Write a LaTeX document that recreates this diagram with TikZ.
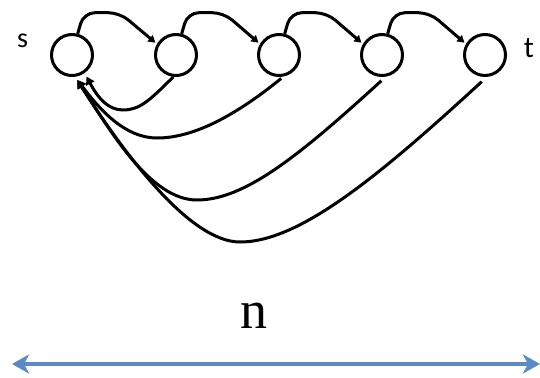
\documentclass[tikz,border=0pt]{standalone}
\usepackage{fontspec}
\newfontfamily\carl{Carlito}
\newfontfamily\lserif{Liberation Serif}
\usetikzlibrary{arrows.meta}
\definecolor{bluearrow}{HTML}{5A8BC6}
\begin{document}
\begin{tikzpicture}[x=1pt,y=-1pt,
  vert/.style={circle,draw=black,line width=3pt,minimum size=41pt,inner sep=0pt,fill=white},
  fwd/.style={line width=3pt,rounded corners=11pt,-{Triangle[length=7pt,width=8pt]},shorten >=2pt},
  back/.style={line width=3pt,-{Triangle[length=8pt,width=9pt]}},
  lbl/.style={anchor=base,inner sep=0pt}]
\useasboundingbox (0,0) rectangle (540,377);
\node[vert] (c1) at (72,55) {};
\node[vert] (c2) at (176,55) {};
\node[vert] (c3) at (279,55) {};
\node[vert] (c4) at (382,55) {};
\node[vert] (c5) at (485,55) {};
\node[lbl,font=\carl\fontsize{28}{30}\selectfont] (s) at (22.5,48) {s};
\node[lbl,font=\carl\fontsize{30}{32}\selectfont] (t) at (529,58) {t};
\node[lbl,font=\lserif\fontsize{54}{56}\selectfont] (n) at (254,328) {n};
% forward arcs
\foreach \a/\b in {c1/c2,c2/c3,c3/c4,c4/c5}{
  \draw[fwd] (\a.75) -- ++(6,-21) -- ++(36,0) -- (\b.150);
}
% backward arcs
\draw[back,shorten >=4pt] (c2.-97) .. controls (150,100) and (140,110) .. (123,110) .. controls (108,110) and (98,98) .. (c1.-55);
\draw[back,shorten <=3pt,shorten >=4pt] (c3.-78) .. controls (230,120) and (190,138) .. (157,138) .. controls (125,138) and (100,110) .. (c1.-82);
\draw[back,shorten <=6pt,shorten >=4pt] (c4.-80) .. controls (300,155) and (245,200) .. (197,200) .. controls (150,200) and (110,130) .. (c1.-82);
\draw[back,shorten <=7pt,shorten >=4pt] (c5.-85) .. controls (380,175) and (300,242) .. (240,242) .. controls (190,242) and (125,155) .. (c1.-82);
% length arrow
\coordinate (L) at (12,364);
\coordinate (R) at (540,364);
\draw[bluearrow,line width=3.5pt,{Stealth[length=17pt,width=19pt,inset=5pt]}-{Stealth[length=17pt,width=19pt,inset=5pt]}] (L) -- (R);
\end{tikzpicture}
\end{document}
